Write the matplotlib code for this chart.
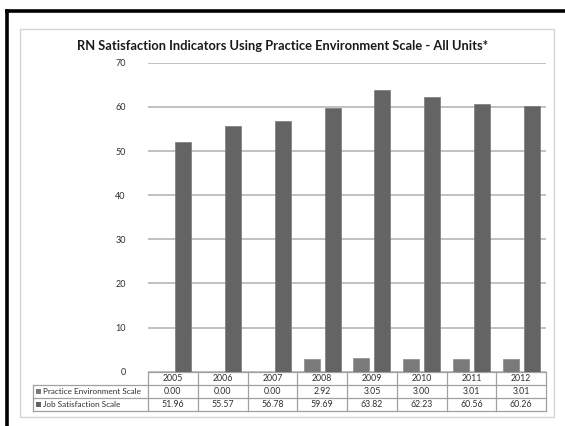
import matplotlib
matplotlib.use("Agg")
import matplotlib.pyplot as plt
from matplotlib.transforms import blended_transform_factory
from matplotlib.patches import Rectangle
from matplotlib.lines import Line2D

years = ["2005", "2006", "2007", "2008", "2009", "2010", "2011", "2012"]
practice_env = [0.00, 0.00, 0.00, 2.92, 3.05, 3.00, 3.01, 3.01]
job_satisfaction = [51.96, 55.57, 56.78, 59.69, 63.82, 62.23, 60.56, 60.26]
series_names = ["Practice Environment Scale", "Job Satisfaction Scale"]
title = "RN Satisfaction Indicators Using Practice Environment Scale - All Units*"

W, H = 565, 426
FONT = ["Lato", "DejaVu Sans"]
plt.rcParams["font.family"] = FONT

c_practice = "#7a7a7a"
c_job = "#646464"
grid_c = "#bcbcbc"
table_c = "#a0a0a0"
text_c = "#303030"

fig = plt.figure(figsize=(W / 100, H / 100), dpi=100)
fig.patch.set_facecolor("white")


def fx(px):
    return px / W


def fy(py):
    return 1 - py / H


# outer black frame (left and top edges)
fig.add_artist(Line2D([fx(7), fx(7)], [fy(10.5), fy(430)], color="black", lw=2.6,
                      transform=fig.transFigure, solid_capstyle="projecting"))
fig.add_artist(Line2D([fx(7), fx(570)], [fy(10.5), fy(10.5)], color="black", lw=2.6,
                      transform=fig.transFigure, solid_capstyle="projecting"))
# chart area border
fig.add_artist(Rectangle((fx(20), fy(417)), fx(554) - fx(20), fy(29) - fy(417),
                         transform=fig.transFigure, fill=False, ec="#d4d4d4", lw=1.0))

ax_left, ax_right = 148, 546
ax_top, ax_bottom = 62.7, 371.8
ax = fig.add_axes([fx(ax_left), fy(ax_bottom), fx(ax_right) - fx(ax_left), fy(ax_top) - fy(ax_bottom)])
ax.set_xlim(-0.5, len(years) - 0.5)
ax.set_ylim(0, 70)
ax.set_yticks(range(0, 71, 10))
ax.set_xticks([])
for s in ax.spines.values():
    s.set_visible(False)
ax.yaxis.grid(True, color=grid_c, lw=1.3)
ax.set_axisbelow(True)
ax.tick_params(axis="y", length=0, pad=16, labelsize=6.5, labelcolor=text_c)

x = list(range(len(years)))
bw = 0.32
off = 0.21
ax.bar([i - off for i in x], practice_env, width=bw, color=c_practice, edgecolor="#8a8a8a", lw=0.5, zorder=3)
ax.bar([i + off for i in x], job_satisfaction, width=bw, color=c_job, edgecolor="#7a7a7a", lw=0.5, zorder=3)

fig.text(fx(283), fy(46), title, ha="center", va="center", fontsize=9.3,
         fontweight="bold", color="#1a1a1a")

# data table below the plot
tr = blended_transform_factory(ax.transData, fig.transFigure)
cat_w_px = (ax_right - ax_left) / len(years)
label_left = -0.5 - (ax_left - 33) / cat_w_px
row_y = [372, 385, 398, 411]
lw_t = 0.9


def hline(x0, x1, py):
    ax.add_line(Line2D([x0, x1], [fy(py), fy(py)], transform=tr, color=table_c, lw=lw_t, clip_on=False))


def vline(xx, py0, py1):
    ax.add_line(Line2D([xx, xx], [fy(py0), fy(py1)], transform=tr, color=table_c, lw=lw_t, clip_on=False))


n = len(years)
hline(-0.5, n - 0.5, row_y[0])
for py in row_y[1:]:
    hline(label_left, n - 0.5, py)
for k in range(n + 1):
    vline(k - 0.5, row_y[0], row_y[3])
vline(label_left, row_y[1], row_y[3])

for i, yr in enumerate(years):
    ax.text(i, fy((row_y[0] + row_y[1]) / 2), yr, transform=tr, ha="center", va="center",
            fontsize=6.3, color=text_c, clip_on=False)
for r, (vals, name, col) in enumerate([(practice_env, series_names[0], c_practice),
                                       (job_satisfaction, series_names[1], c_job)]):
    yc = fy((row_y[r + 1] + row_y[r + 2]) / 2)
    for i, v in enumerate(vals):
        ax.text(i, yc, f"{v:.2f}", transform=tr, ha="center", va="center",
                fontsize=6.3, color=text_c, clip_on=False)
    fig.add_artist(Rectangle((fx(36), yc - 2.5 / H), 5 / W, 5 / H, transform=fig.transFigure,
                             color=col, lw=0))
    fig.text(fx(43), yc, name, ha="left", va="center", fontsize=5.9, color=text_c)

fig.savefig("out.png", dpi=100, facecolor="white")
